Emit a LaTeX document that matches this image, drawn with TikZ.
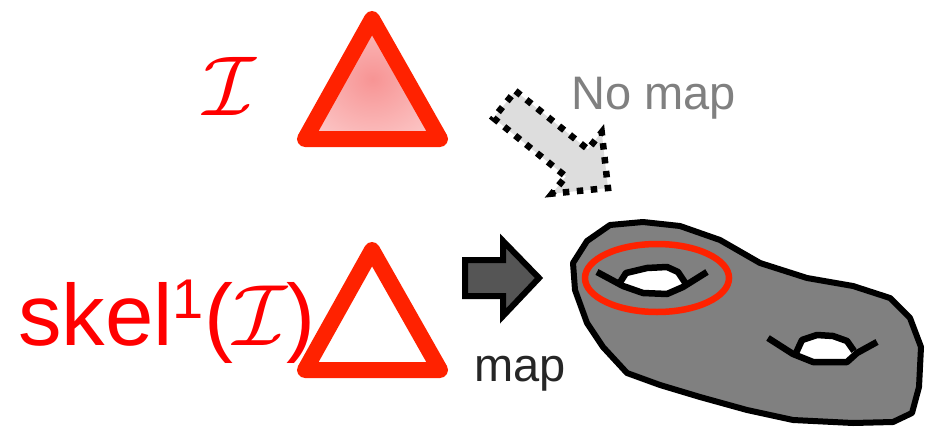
\RequirePackage{fix-cm}
\documentclass[tikz,border=0pt]{standalone}
\usepackage{fontspec}
\newfontfamily\arialfont{Liberation Sans}

% 颜色
\definecolor{triRed}{RGB}{255,34,0}
\definecolor{textRed}{RGB}{255,0,0}
\definecolor{glowIn}{RGB}{247,148,148}
\definecolor{glowOut}{RGB}{253,212,212}
\definecolor{surfGray}{RGB}{128,128,128}
\definecolor{arrowGray}{RGB}{85,85,85}
\definecolor{dotFill}{RGB}{221,221,221}
\definecolor{hintGray}{RGB}{128,128,128}
\definecolor{mapInk}{RGB}{38,38,38}

% 三角形内部的径向渐变
\pgfdeclareradialshading{glow}{\pgfpoint{0bp}{0bp}}{color(0bp)=(glowIn); color(38bp)=(glowOut); color(50bp)=(glowOut)}

\begin{document}
\begin{tikzpicture}[x=1pt,y=-1pt] % 按像素坐标作图，y 轴朝下
    \useasboundingbox (0,0) rectangle (925,433);

    % 定义两个三角形的顶点
    \coordinate (T1) at (372,19);
    \coordinate (T2) at (305,139);
    \coordinate (T3) at (440,139);
    \coordinate (S1) at (372,250);
    \coordinate (S2) at (305,370);
    \coordinate (S3) at (440,370);

    % === 上面的三角形（带渐变填充）和下面的空心三角形 ===
    \draw[triRed, line width=16pt, line join=round, shading=glow] (T1) -- (T2) -- (T3) -- cycle;
    \draw[triRed, line width=16pt, line join=round, fill=white] (S1) -- (S2) -- (S3) -- cycle;

    % 左侧的文字
    \node[textRed, font=\fontsize{85}{85}\selectfont, anchor=base, inner sep=0] (calI) at (230,115) {$\mathcal{I}$};
    \node[textRed, font=\arialfont\fontsize{87}{87}\selectfont, anchor=base west, inner sep=0] (skel) at (18,345)
        {skel\raisebox{27pt}{\fontsize{56}{56}\selectfont 1}($\mathcal{I}$)};

    % === 虚点描边的斜箭头（不存在映射） ===
    \coordinate (D1) at (515.5,90.9);
    \coordinate (D2) at (587.9,149.3);
    \coordinate (D3) at (601.7,132.2);
    \coordinate (D4) at (608,188);
    \coordinate (D5) at (552.1,193.6);
    \coordinate (D6) at (565.9,176.5);
    \coordinate (D7) at (493.5,118.1);
    \draw[line width=6.5pt, dash pattern=on 6.5pt off 7.5pt, fill=dotFill] (D1) -- (D2) -- (D3) -- (D4) -- (D5) -- (D6) -- (D7) -- cycle;
    \node[hintGray, font=\arialfont\fontsize{47}{47}\selectfont, anchor=base west, inner sep=0] (nomap) at (571,110) {No map};

    % === 实心的向右箭头（映射） ===
    \coordinate (A1) at (465,260);
    \coordinate (A2) at (503,260);
    \coordinate (A3) at (503,241);
    \coordinate (A4) at (539,278);
    \coordinate (A5) at (503,316);
    \coordinate (A6) at (503,296);
    \coordinate (A7) at (465,296);
    \draw[line width=6pt, fill=arrowGray] (A1) -- (A2) -- (A3) -- (A4) -- (A5) -- (A6) -- (A7) -- cycle;
    \node[mapInk, font=\arialfont\fontsize{47}{47}\selectfont, anchor=base west, inner sep=0] (maplabel) at (474,381) {map};

    % === 曲面外轮廓 ===
    \draw[line width=6pt, line join=round, fill=surfGray]
        (610,225) -- (643,222) -- (680,226) -- (720,240) -- (760,263) -- (807,278)
        -- (853,286) -- (890,298) -- (910,318) -- (921,347) -- (919,387) -- (912,413)
        -- (893,422) -- (853,423) -- (793,420) -- (747,410) -- (700,397) -- (660,385)
        -- (627,373) -- (603,347) -- (587,323) -- (575,290) -- (573,263) -- (587,241) -- cycle;

    % 第一个洞
    \fill[white] (619,284) -- (626,273) -- (647,268) -- (667,267) -- (678,272) -- (686,284)
        -- (683,288) -- (667,295) -- (643,294) -- (623,287) -- cycle;
    \draw[line width=6.5pt, line join=round] (597,272) -- (623,286) -- (643,293) -- (667,294) -- (683,287) -- (707,272);
    \draw[line width=6.5pt, line join=round] (619,284) -- (626,273) -- (647,268) -- (667,267) -- (678,272) -- (686,284);

    % 第二个洞
    \fill[white] (796,353) -- (802,340) -- (817,335) -- (833,336) -- (847,341) -- (854,351)
        -- (847,362) -- (813,362) -- cycle;
    \draw[line width=6.5pt, line join=round] (768,338) -- (793,354) -- (813,362) -- (847,362) -- (857,353) -- (877,342);
    \draw[line width=6.5pt, line join=round] (796,353) -- (802,340) -- (817,335) -- (833,336) -- (847,341) -- (854,351);

    % 圈出第一个洞的红色椭圆
    \draw[triRed, line width=6.5pt] (657,278) ellipse [x radius=72, y radius=34];
\end{tikzpicture}
\end{document}
